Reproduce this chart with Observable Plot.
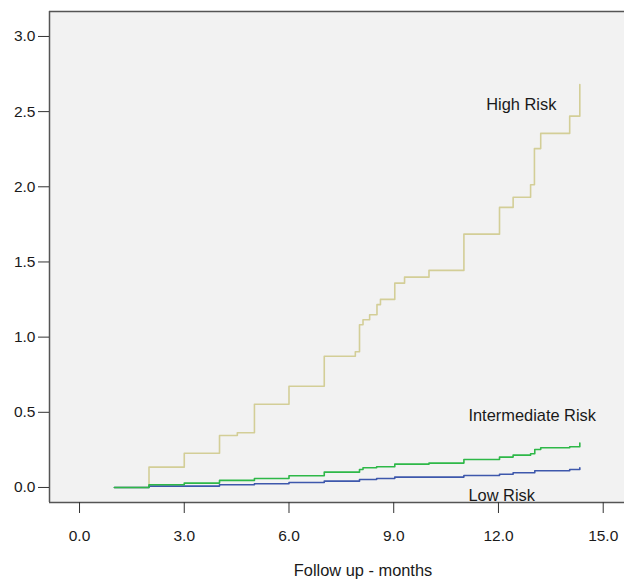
<!DOCTYPE html>
<html><head><meta charset="utf-8">
<script src="https://cdn.jsdelivr.net/npm/d3@7"></script>
<script src="https://cdn.jsdelivr.net/npm/@observablehq/plot@0.6"></script>
<style>body{margin:0;background:#fff}</style>
</head><body><div id="chart"></div>
<script>
// Data (cumulative hazard by follow-up month)
const highMonths = [1, 1.99, 3.0, 4.01, 4.52, 5.01, 6.0, 7.01, 7.9, 8.02, 8.12, 8.31, 8.52, 8.62, 9.03, 9.31, 10.01, 11.01, 12.03, 12.42, 12.92, 13.03, 13.21, 14.04, 14.33];
const highValues = [0, 0.135, 0.228, 0.346, 0.364, 0.554, 0.673, 0.873, 0.903, 1.082, 1.116, 1.149, 1.216, 1.251, 1.359, 1.399, 1.444, 1.685, 1.863, 1.930, 2.014, 2.254, 2.355, 2.470, 2.680];
const interMonths = [1, 1.99, 3.0, 4.01, 5.01, 6.0, 7.01, 8.02, 8.12, 8.51, 9.03, 10.01, 11.01, 12.03, 12.42, 12.92, 13.04, 13.21, 14.04, 14.33];
const interValues = [0, 0.018, 0.029, 0.047, 0.060, 0.078, 0.102, 0.120, 0.131, 0.138, 0.155, 0.162, 0.186, 0.202, 0.215, 0.224, 0.253, 0.264, 0.271, 0.295];
const lowMonths = [1, 1.99, 4.01, 5.01, 6.0, 7.01, 8.02, 8.51, 9.03, 11.01, 12.03, 12.42, 13.04, 14.04, 14.33];
const lowValues = [0, 0.009, 0.018, 0.025, 0.033, 0.042, 0.053, 0.060, 0.069, 0.080, 0.088, 0.098, 0.111, 0.120, 0.131];

const seriesNames = ["High Risk", "Low Risk", "Intermediate Risk"];
const seriesColors = ["#D3CE97", "#3E58AC", "#2EB848"];

const labelNames = ["High Risk", "Intermediate Risk", "Low Risk"];
const labelMonths = [11.65, 11.14, 11.14];
const labelValues = [2.545, 0.479, -0.053];

const xTicks = [0, 3, 6, 9, 12, 15];
const yTicks = [0, 0.5, 1, 1.5, 2, 2.5, 3];
const xTitle = "Follow up - months";

const xDomain = [-0.86, 15.61];
const yDomain = [-0.1, 3.166];

const toRows = (ms, vs, name) => ms.map((m, i) => ({month: m, value: vs[i], series: name}));
const highRows = toRows(highMonths, highValues, seriesNames[0]);
const lowRows = toRows(lowMonths, lowValues, seriesNames[1]);
const interRows = toRows(interMonths, interValues, seriesNames[2]);
const labelRows = labelNames.map((n, i) => ({name: n, month: labelMonths[i], value: labelValues[i]}));

const font = "'Liberation Sans', Arial, sans-serif";
const chart = Plot.plot({
  width: 624, height: 584,
  marginLeft: 49, marginRight: 0, marginTop: 11, marginBottom: 82,
  style: {fontFamily: font, background: "#fff", color: "#1a1a1a"},
  x: {domain: xDomain},
  y: {domain: yDomain},
  marks: [
    Plot.frame({fill: "#f2f2f2", stroke: null}),
    Plot.line(highRows, {x: "month", y: "value", curve: "step-after", stroke: seriesColors[0], strokeWidth: 1.6}),
    Plot.line(lowRows, {x: "month", y: "value", curve: "step-after", stroke: seriesColors[1], strokeWidth: 1.6}),
    Plot.line(interRows, {x: "month", y: "value", curve: "step-after", stroke: seriesColors[2], strokeWidth: 1.6}),
    Plot.text(labelRows, {x: "month", y: "value", text: "name", textAnchor: "start", fontSize: 16.4, fill: "#1a1a1a"}),
    Plot.ruleX([xDomain[0]], {stroke: "#555", strokeWidth: 1.5}),
    Plot.ruleY([yDomain[0], yDomain[1]], {stroke: "#555", strokeWidth: 1.5}),
    Plot.axisY({ticks: yTicks, tickFormat: d => d.toFixed(1), tickSize: 11, tickPadding: 3, fontSize: 15.5, label: null, stroke: "#333", fill: "#1a1a1a"}),
    Plot.axisX({ticks: xTicks, tickFormat: d => d.toFixed(1), tickSize: 11, tickPadding: 16, fontSize: 15.5, label: null, stroke: "#333", fill: "#1a1a1a"}),
    Plot.text([xTitle], {frameAnchor: "bottom", dx: 26, dy: 73, fontSize: 16.4, fill: "#1a1a1a"})
  ]
});
document.getElementById("chart").appendChild(chart);
</script>
</body></html>
